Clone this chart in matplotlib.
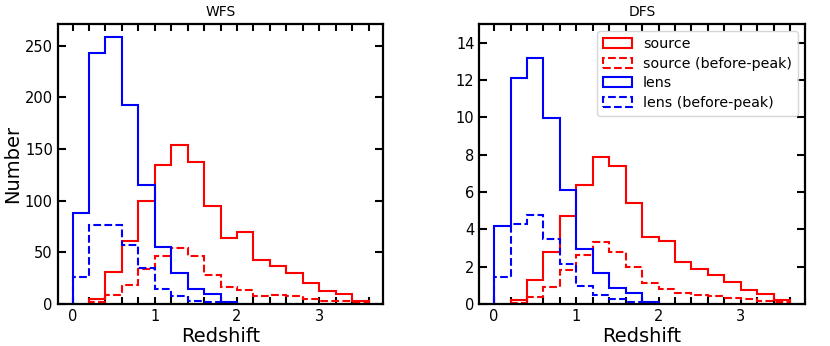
import numpy as np
import matplotlib
matplotlib.use('Agg')
import matplotlib.pyplot as plt
from matplotlib.ticker import MultipleLocator
from matplotlib.patches import Patch

# bin edges (width 0.2)
lens_edges = np.round(np.arange(0.0, 2.01, 0.2), 2)
source_edges = np.round(np.arange(0.2, 3.61, 0.2), 2)

# WFS counts per bin
wfs_source = [5, 31, 61, 100, 135, 154, 137, 95, 64, 70, 43, 37, 30, 20, 13, 10, 3]
wfs_source_bp = [1.6, 9, 18, 34, 46, 54, 46, 28, 16, 14, 8, 9, 8, 4.5, 3, 2.6, 2]
wfs_lens = [88, 243, 258, 193, 115, 55, 30, 15, 10, 1.6]
wfs_lens_bp = [26.5, 76.5, 76.5, 57, 35, 15, 8, 3, 2, 0.6]

# DFS counts per bin
dfs_source = [0.2, 1.3, 2.8, 4.7, 6.4, 7.9, 7.4, 5.4, 3.6, 3.4, 2.25, 1.9, 1.55, 1.2, 0.75, 0.54, 0.2]
dfs_source_bp = [0.07, 0.38, 0.9, 1.8, 2.65, 3.3, 2.8, 2.0, 1.13, 0.8, 0.57, 0.5, 0.45, 0.33, 0.27, 0.18, 0.1]
dfs_lens = [4.2, 12.1, 13.2, 9.95, 6.1, 2.95, 1.65, 0.86, 0.6, 0.1]
dfs_lens_bp = [1.42, 4.3, 4.77, 3.5, 2.13, 0.97, 0.5, 0.27, 0.1, 0.03]

labels = ['source', 'source (before-peak)', 'lens', 'lens (before-peak)']
colors = ['red', 'red', 'blue', 'blue']
styles = ['-', '--', '-', '--']

fig = plt.figure(figsize=(8.3, 3.46), dpi=100)
ax1 = fig.add_axes([57.7/830, 1-304/346, (383.3-57.7)/830, 280/346])
ax2 = fig.add_axes([479.3/830, 1-304/346, (805-479.3)/830, 280/346])


def draw_panel(ax, src, src_bp, lens, lens_bp, title, ymax):
    centers_s = (source_edges[:-1] + source_edges[1:]) / 2
    centers_l = (lens_edges[:-1] + lens_edges[1:]) / 2
    data = [(centers_s, source_edges, src), (centers_s, source_edges, src_bp),
            (centers_l, lens_edges, lens), (centers_l, lens_edges, lens_bp)]
    for (c, e, w), col, ls in zip(data, colors, styles):
        ax.hist(c, bins=e, weights=w, histtype='step', color=col, lw=1.5, ls=ls)
    ax.set_xlim(-0.18, 3.78)
    ax.set_ylim(0, ymax)
    ax.set_title(title, fontsize=10)
    ax.set_xlabel('Redshift', fontsize=14, labelpad=2)
    ax.xaxis.set_major_locator(MultipleLocator(1))
    ax.xaxis.set_minor_locator(MultipleLocator(0.2))
    ax.tick_params(axis='x', which='both', direction='in', top=True,
                   length=5, width=1.5, labelsize=10.5)
    ax.tick_params(axis='y', which='both', direction='in', right=True,
                   length=6, width=1.5, labelsize=10.5)
    for sp in ax.spines.values():
        sp.set_linewidth(1.6)


draw_panel(ax1, wfs_source, wfs_source_bp, wfs_lens, wfs_lens_bp, 'WFS', 271)
ax1.set_ylabel('Number', fontsize=14, labelpad=2)
ax1.yaxis.set_major_locator(MultipleLocator(50))

draw_panel(ax2, dfs_source, dfs_source_bp, dfs_lens, dfs_lens_bp, 'DFS', 15)
ax2.yaxis.set_major_locator(MultipleLocator(2))
handles = [Patch(facecolor='none', edgecolor=c, lw=1.5, ls=s)
           for c, s in zip(colors, styles)]
ax2.legend(handles, labels, loc='upper right', fontsize=10.3, labelspacing=0.4)

fig.savefig('out.png', dpi=100)
